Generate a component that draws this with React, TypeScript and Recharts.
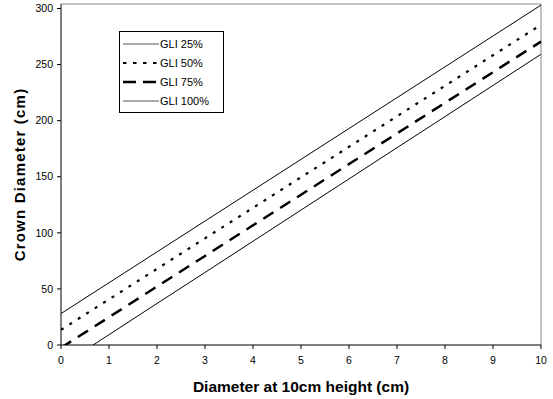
import { LineChart, Line, XAxis, YAxis, ReferenceLine } from "recharts"

const diameters = [0, 1, 2, 3, 4, 5, 6, 7, 8, 9, 10]
const gli25 = [28, 55.5, 83, 110.5, 138, 165.5, 193, 220.5, 248, 275.5, 303]
const gli50 = [13.5, 40.7, 67.9, 95.1, 122.3, 149.5, 176.7, 203.9, 231.1, 258.3, 285.5]
const gli75 = [-2.5, 24.8, 52.1, 79.4, 106.7, 134, 161.3, 188.6, 215.9, 243.2, 270.5]
const gli100 = [-18.6, 9.2, 37, 64.7, 92.5, 120.3, 148.1, 175.9, 203.6, 231.4, 259.2]
const xTicks = [0, 1, 2, 3, 4, 5, 6, 7, 8, 9, 10]
const yTicks = [0, 50, 100, 150, 200, 250, 300]

const series = [
  { key: "gli25", name: "GLI 25%", width: 1, dash: undefined },
  { key: "gli50", name: "GLI 50%", width: 2.2, dash: "3 7" },
  { key: "gli75", name: "GLI 75%", width: 2.5, dash: "12 8" },
  { key: "gli100", name: "GLI 100%", width: 1, dash: undefined },
]

const data = diameters.map((d, i) => ({
  d,
  gli25: gli25[i],
  gli50: gli50[i],
  gli75: gli75[i],
  gli100: gli100[i],
}))

const font = "'Liberation Sans', Arial, sans-serif"

function LegendBox() {
  return (
    <svg width={105} height={82} style={{ display: "block" }}>
      <rect x={0.5} y={0.5} width={104} height={81} fill="#fff" stroke="#000" />
      {series.map((s, i) => {
        const y = 13 + i * 19
        const solid = !s.dash
        return (
          <g key={s.key}>
            <line
              x1={4}
              x2={40}
              y1={y}
              y2={y}
              stroke={solid ? "#555" : "#000"}
              strokeWidth={solid ? 1 : s.width}
              strokeDasharray={s.key === "gli50" ? "3.5 6.5" : s.key === "gli75" ? "13 7" : undefined}
            />
            <text x={41} y={y + 4} fontSize={11} fontFamily={font} fill="#000">
              {s.name}
            </text>
          </g>
        )
      })}
    </svg>
  )
}

export default function App() {
  return (
    <div style={{ position: "absolute", left: 0, top: 0, width: 553, height: 399, background: "#fff" }}>
      <LineChart width={553} height={399} data={data} margin={{ top: 4, right: 12, bottom: 0, left: 0 }}>
        <XAxis
          dataKey="d"
          type="number"
          domain={[0, 10]}
          ticks={xTicks}
          interval={0}
          height={54}
          tickSize={4}
          tickMargin={8}
          stroke="#000"
          tick={{ fontSize: 10.5, fill: "#000", fontFamily: font }}
          label={{
            value: "Diameter at 10cm height (cm)",
            position: "insideBottom",
            offset: 7,
            style: { fontSize: 15.5, fontWeight: "bold", fill: "#000", fontFamily: font },
          }}
        />
        <YAxis
          type="number"
          domain={[0, 304]}
          ticks={yTicks}
          interval={0}
          allowDataOverflow
          width={61}
          tickSize={4}
          tickMargin={4}
          stroke="#000"
          tick={{ fontSize: 10.5, fill: "#000", fontFamily: font }}
          label={{
            value: "Crown Diameter (cm)",
            angle: -90,
            position: "insideLeft",
            offset: 20,
            style: {
              fontSize: 15,
              fontWeight: "bold",
              fill: "#000",
              fontFamily: font,
              letterSpacing: 1.2,
              textAnchor: "middle",
            },
          }}
        />
        <ReferenceLine y={304} stroke="#888" />
        <ReferenceLine x={10} stroke="#888" />
        {series.map((s) => (
          <Line
            key={s.key}
            dataKey={s.key}
            name={s.name}
            stroke="#000"
            strokeWidth={s.width}
            strokeDasharray={s.dash}
            dot={false}
            activeDot={false}
            type="linear"
            isAnimationActive={false}
          />
        ))}
      </LineChart>
      <div style={{ position: "absolute", left: 119, top: 31 }}>
        <LegendBox />
      </div>
    </div>
  )
}
